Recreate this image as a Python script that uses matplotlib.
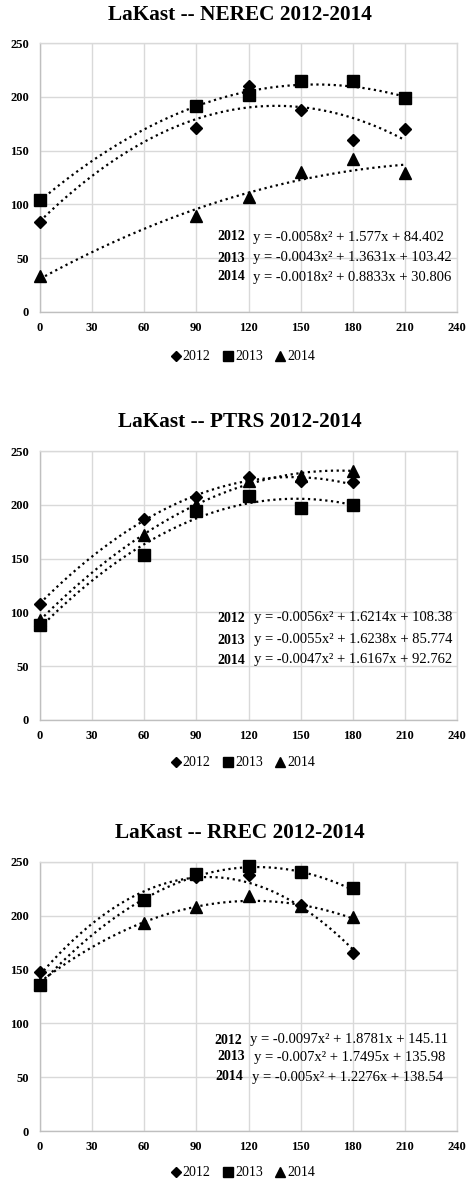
import matplotlib
matplotlib.use("Agg")
import matplotlib.pyplot as plt
from matplotlib.lines import Line2D
import numpy as np

plt.rcParams['font.family'] = ['Liberation Serif', 'DejaVu Serif']

W, H = 467, 1182
DPI = 100

years = ['2012', '2013', '2014']
markers = {'2012': 'D', '2013': 's', '2014': '^'}
msizes = {'2012': 6.0, '2013': 8.5, '2014': 8.0}

titles = ['LaKast -- NEREC 2012-2014', 'LaKast -- PTRS 2012-2014', 'LaKast -- RREC 2012-2014']

# NEREC
nerec_x = [0, 90, 120, 150, 180, 210]
nerec_2012 = [84, 171, 210, 188, 160, 170]
nerec_2013 = [104, 191, 202, 215, 215, 199]
nerec_2014 = [33, 89, 107, 130, 142, 129]
nerec_coef = {'2012': [-0.0058, 1.577, 84.402],
              '2013': [-0.0043, 1.3631, 103.42],
              '2014': [-0.0018, 0.8833, 30.806]}

# PTRS
ptrs_x = [0, 60, 90, 120, 150, 180]
ptrs_2012 = [108, 187, 207, 226, 222, 221]
ptrs_2013 = [88, 153, 194, 208, 197, 200]
ptrs_2014 = [93, 172, 200, 222, 227, 231]
ptrs_coef = {'2012': [-0.0056, 1.6214, 108.38],
             '2013': [-0.0055, 1.6238, 85.774],
             '2014': [-0.0047, 1.6167, 92.762]}

# RREC
rrec_x = [0, 60, 90, 120, 150, 180]
rrec_2012 = [148, 215, 236, 238, 210, 165]
rrec_2013 = [136, 215, 239, 246, 241, 226]
rrec_2014 = [138, 193, 208, 218, 209, 199]
rrec_coef = {'2012': [-0.0097, 1.8781, 145.11],
             '2013': [-0.007, 1.7495, 135.98],
             '2014': [-0.005, 1.2276, 138.54]}

x_ticks = [0, 30, 60, 90, 120, 150, 180, 210, 240]
y_ticks = [0, 50, 100, 150, 200, 250]

panels = [
    (titles[0], nerec_x, {'2012': nerec_2012, '2013': nerec_2013, '2014': nerec_2014}, nerec_coef),
    (titles[1], ptrs_x, {'2012': ptrs_2012, '2013': ptrs_2013, '2014': ptrs_2014}, ptrs_coef),
    (titles[2], rrec_x, {'2012': rrec_2012, '2013': rrec_2013, '2014': rrec_2014}, rrec_coef),
]

# layout (pixels from top)
ax_left, ax_right = 40, 457
ax_tops = [43, 451, 862]
ax_bots = [312, 720, 1131]
title_x = 240
title_y = [15, 422, 833]
legend_y = [357, 763, 1173]
eq_y = [[237, 258, 277], [618, 640, 660], [1040, 1057, 1077]]
eq_year_x = [[245, 245, 245], [245, 245, 245], [242, 245, 243]]
eq_x = [[253, 253, 253], [254, 254, 254], [250, 254, 252]]

fig = plt.figure(figsize=(W / DPI, H / DPI), dpi=DPI)
fig.patch.set_facecolor('white')

def fx(px):
    return px / W

def fy(py):
    return 1 - py / H

def fmt(c):
    return f"{c:g}"

for i, (title, xs, series, coefs) in enumerate(panels):
    b = fy(ax_bots[i])
    h = (ax_bots[i] - ax_tops[i]) / H
    ax = fig.add_axes([fx(ax_left), b, fx(ax_right) - fx(ax_left), h])
    ax.set_xlim(0, 240)
    ax.set_ylim(0, 250)
    ax.set_xticks(x_ticks)
    ax.set_yticks(y_ticks)
    ax.grid(True, color='#d9d9d9', linewidth=1.0)
    ax.set_axisbelow(True)
    for s in ['top', 'right']:
        ax.spines[s].set_color('#d9d9d9')
        ax.spines[s].set_linewidth(1.0)
    for s in ['left', 'bottom']:
        ax.spines[s].set_color('#bfbfbf')
        ax.spines[s].set_linewidth(1.0)
    ax.tick_params(length=0, labelsize=9)
    ax.tick_params(axis='y', pad=8)
    ax.tick_params(axis='x', pad=7)
    for lab in ax.get_xticklabels() + ax.get_yticklabels():
        lab.set_fontweight('bold')

    for yr in years:
        a, bb, c = coefs[yr]
        xx = np.linspace(0, max(xs), 200)
        ax.plot(xx, a * xx ** 2 + bb * xx + c, color='black', lw=1.6,
                linestyle=(0, (1, 1.6)), zorder=2, clip_on=False)
    for yr in years:
        ax.plot(xs, series[yr], linestyle='none', marker=markers[yr],
                markersize=msizes[yr], color='black', zorder=3, clip_on=False)

    fig.text(fx(title_x), fy(title_y[i]), title, ha='center', va='center',
             fontsize=15.3, fontweight='bold')

    for j, yr in enumerate(years):
        a, bb, c = coefs[yr]
        fig.text(fx(eq_year_x[i][j]), fy(eq_y[i][j]), yr, ha='right', va='center',
                 fontsize=10, fontweight='bold')
        eq = f"y = {fmt(a)}x\u00b2 + {fmt(bb)}x + {fmt(c)}"
        fig.text(fx(eq_x[i][j]), fy(eq_y[i][j]), eq, ha='left', va='center',
                 fontsize=10.5)

    handles = [Line2D([], [], linestyle='none', marker=markers[yr], color='black',
                      markersize={'2012': 5, '2013': 7.5, '2014': 7}[yr]) for yr in years]
    fig.legend(handles, years, loc='center', bbox_to_anchor=(fx(243), fy(legend_y[i])),
               ncol=3, frameon=False, fontsize=10, handlelength=0.7,
               handletextpad=0.15, columnspacing=0.9, borderaxespad=0, borderpad=0)

fig.savefig('out.png', dpi=DPI, facecolor='white')
